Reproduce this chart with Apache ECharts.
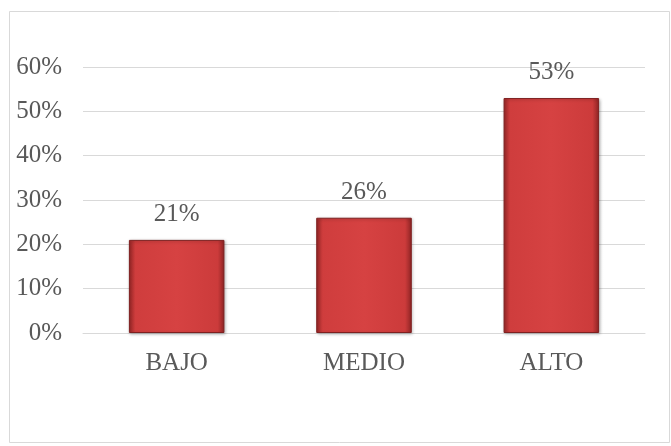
<!DOCTYPE html>
<html>
<head>
<meta charset="utf-8">
<script src="https://cdn.jsdelivr.net/npm/echarts@6/dist/echarts.min.js"></script>
<style>
  html, body { margin: 0; padding: 0; background: #ffffff; }
  #chart { width: 671px; height: 446px; }
</style>
</head>
<body>
<div id="chart"></div>
<script>
// Nivel alcanzado por categoría (porcentaje)
const categories = ['BAJO', 'MEDIO', 'ALTO'];
const values = [21, 26, 53];
const yTicks = [0, 10, 20, 30, 40, 50, 60];

const FONT = '"Liberation Serif", "Times New Roman", serif';
const TEXT = '#595959';

const chart = echarts.init(document.getElementById('chart'), null, { renderer: 'canvas' });

const barFill = new echarts.graphic.LinearGradient(0, 0, 1, 0, [
  { offset: 0, color: '#9a2727' },
  { offset: 0.07, color: '#cf3d3d' },
  { offset: 0.5, color: '#d64242' },
  { offset: 0.93, color: '#cc3b3b' },
  { offset: 1, color: '#8e2424' }
]);

chart.setOption({
  animation: false,
  backgroundColor: '#ffffff',
  graphic: [{
    type: 'rect',
    left: 7, top: 9,
    shape: { width: 660, height: 431 },
    style: { fill: 'none', stroke: '#d9d9d9', lineWidth: 1 },
    silent: true
  }],
  grid: { left: 83, right: 26, top: 67, bottom: 113 },
  xAxis: {
    type: 'category',
    data: categories,
    axisLine: { show: true, lineStyle: { color: '#d9d9d9', width: 1 } },
    axisTick: { show: false },
    axisLabel: { color: TEXT, fontFamily: FONT, fontSize: 25, margin: 18 }
  },
  yAxis: {
    type: 'value',
    min: yTicks[0],
    max: yTicks[yTicks.length - 1],
    interval: yTicks[1] - yTicks[0],
    axisLine: { show: false },
    axisTick: { show: false },
    splitLine: { lineStyle: { color: '#d9d9d9', width: 1 } },
    axisLabel: { color: TEXT, fontFamily: FONT, fontSize: 25, margin: 21, formatter: '{value}%' }
  },
  series: [{
    type: 'bar',
    data: values,
    barWidth: '51%',
    itemStyle: {
      color: barFill,
      borderColor: '#7e2020',
      borderWidth: 1,
      shadowColor: 'rgba(0,0,0,0.25)',
      shadowBlur: 3,
      shadowOffsetX: 1,
      shadowOffsetY: 1
    },
    label: {
      show: true,
      position: 'top',
      distance: 13,
      color: TEXT,
      fontFamily: FONT,
      fontSize: 25,
      formatter: '{c}%'
    }
  }]
});
</script>
</body>
</html>
